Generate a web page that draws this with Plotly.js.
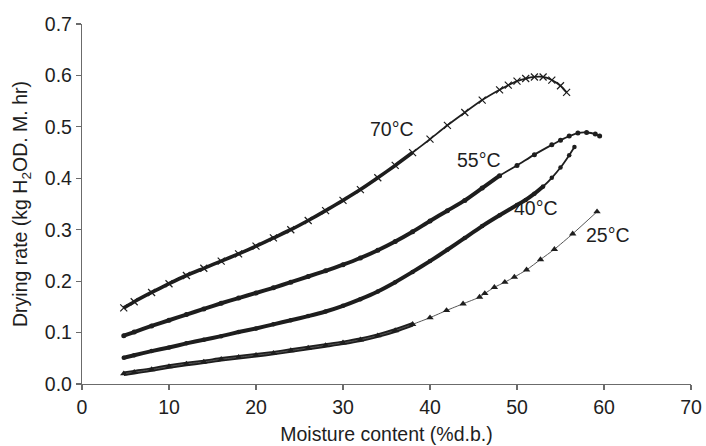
<!DOCTYPE html>
<html>
<head>
<meta charset="utf-8">
<script src="https://cdn.plot.ly/plotly-3.0.1.min.js"></script>
<style>
  html, body { margin: 0; padding: 0; background: #fff; }
  #chart { width: 706px; height: 446px; }
</style>
</head>
<body>
<div id="chart"></div>
<script>
// Drying rate versus moisture content at four air temperatures
const moisture70 = [4.8, 6, 8, 10, 12, 14, 16, 18, 20, 22, 24, 26, 28, 30, 32, 34, 36, 38, 40, 42, 44, 46, 48, 49, 50, 51, 52, 53, 54, 55, 55.7];
const rate70     = [0.148, 0.160, 0.178, 0.195, 0.211, 0.225, 0.239, 0.253, 0.268, 0.284, 0.300, 0.318, 0.337, 0.357, 0.378, 0.401, 0.425, 0.450, 0.476, 0.503, 0.528, 0.552, 0.572, 0.581, 0.589, 0.594, 0.597, 0.597, 0.591, 0.580, 0.567];

const moisture55 = [4.8, 6, 8, 10, 12, 14, 16, 18, 20, 22, 24, 26, 28, 30, 32, 34, 36, 38, 40, 42, 44, 46, 48, 50, 52, 54, 55, 56, 57, 58, 59, 59.5];
const rate55     = [0.094, 0.101, 0.113, 0.124, 0.135, 0.146, 0.157, 0.167, 0.177, 0.187, 0.198, 0.209, 0.220, 0.232, 0.245, 0.260, 0.277, 0.296, 0.317, 0.337, 0.357, 0.381, 0.405, 0.425, 0.446, 0.465, 0.474, 0.482, 0.488, 0.489, 0.486, 0.482];

const moisture40 = [4.8, 6, 8, 10, 12, 14, 16, 18, 20, 22, 24, 26, 28, 30, 32, 34, 36, 38, 40, 42, 44, 46, 48, 50, 51, 52, 53, 54, 55, 56, 56.6];
const rate40     = [0.051, 0.056, 0.064, 0.071, 0.079, 0.086, 0.093, 0.101, 0.108, 0.116, 0.124, 0.132, 0.141, 0.152, 0.165, 0.180, 0.198, 0.218, 0.239, 0.261, 0.284, 0.307, 0.328, 0.348, 0.358, 0.370, 0.384, 0.401, 0.421, 0.445, 0.461];

const moisture25 = [4.8, 6, 8, 10, 12, 14, 16, 18, 20, 22, 24, 26, 28, 30, 32, 34, 36, 38, 40, 41.9, 43.8, 45.7, 46.3, 47.4, 48.6, 49.7, 51.1, 52.7, 54.3, 56.4, 59.2];
const rate25     = [0.020, 0.023, 0.028, 0.034, 0.039, 0.043, 0.048, 0.052, 0.056, 0.060, 0.065, 0.070, 0.075, 0.080, 0.086, 0.094, 0.104, 0.116, 0.129, 0.143, 0.156, 0.169, 0.176, 0.188, 0.198, 0.208, 0.222, 0.242, 0.262, 0.292, 0.335];

const seriesLabels = ['70°C', '55°C', '40°C', '25°C'];
const xTicks = [0, 10, 20, 30, 40, 50, 60, 70];
const yTicks = [0.0, 0.1, 0.2, 0.3, 0.4, 0.5, 0.6, 0.7];

const INK = '#1e1e1e';
const FONT = 'Liberation Sans, Arial, Helvetica, sans-serif';
const FS = 19.5;

// The early part of each run is sampled so densely that the markers fuse
// into one heavy stroke; draw that stretch as a thick line under the markers.
function denseStretch(xs, ys, upTo, width) {
  const x = [], y = [];
  xs.forEach((v, i) => { if (v <= upTo) { x.push(v); y.push(ys[i]); } });
  return { x, y, type: 'scatter', mode: 'lines', hoverinfo: 'skip',
           line: { color: INK, width: width, shape: 'spline', smoothing: 0.6 }, showlegend: false };
}

function run(xs, ys, symbol, size, lineWidth, lineColor, markerLine) {
  return { x: xs, y: ys, type: 'scatter', mode: 'lines+markers', showlegend: false,
           line: { color: lineColor, width: lineWidth, shape: 'spline', smoothing: 0.6 },
           marker: { symbol: symbol, size: size, color: INK,
                     line: { color: INK, width: markerLine } } };
}

const traces = [
  denseStretch(moisture70, rate70, 38, 3.6),
  run(moisture70, rate70, 'x-thin', 7, 1.8, INK, 1.2),
  denseStretch(moisture55, rate55, 48, 4),
  run(moisture55, rate55, 'circle', 5, 1.8, INK, 0),
  denseStretch(moisture40, rate40, 53, 4),
  run(moisture40, rate40, 'circle', 4.5, 1.8, INK, 0),
  denseStretch(moisture25, rate25, 38, 4.5),
  run(moisture25, rate25, 'triangle-up', 6.5, 1, '#555', 0)
];

// Curve labels placed beside the upper end of each run
const labelPos = [[35.6, 0.496], [45.6, 0.435], [52.2, 0.342], [60.5, 0.289]];
const annotations = seriesLabels.map((t, i) => ({
  x: labelPos[i][0], y: labelPos[i][1], xref: 'x', yref: 'y',
  text: t, showarrow: false, font: { family: FONT, size: FS, color: INK }
}));

const axisCommon = {
  showline: true, linecolor: '#6b6b6b', linewidth: 1.2,
  ticks: 'outside', ticklen: 5, tickcolor: '#6b6b6b', tickwidth: 1.2,
  showgrid: false, zeroline: false,
  tickfont: { family: FONT, size: FS, color: INK }
};

const layout = {
  width: 706, height: 446,
  margin: { l: 82, r: 15, t: 24, b: 62 },
  paper_bgcolor: '#fff', plot_bgcolor: '#fff',
  font: { family: FONT, size: FS, color: INK },
  xaxis: Object.assign({}, axisCommon, {
    range: [0, 70], tickvals: xTicks, ticktext: xTicks.map(String),
    title: { text: 'Moisture content (%d.b.)', font: { family: FONT, size: FS, color: INK }, standoff: 10 }
  }),
  yaxis: Object.assign({}, axisCommon, {
    range: [0, 0.7], tickvals: yTicks, ticktext: yTicks.map(v => v.toFixed(1)),
    title: { text: 'Drying rate (kg H<sub>2</sub>OD. M. hr)', font: { family: FONT, size: FS, color: INK }, standoff: 12 }
  }),
  annotations: annotations
};

Plotly.newPlot('chart', traces, layout, { staticPlot: true, displayModeBar: false });
</script>
</body>
</html>
